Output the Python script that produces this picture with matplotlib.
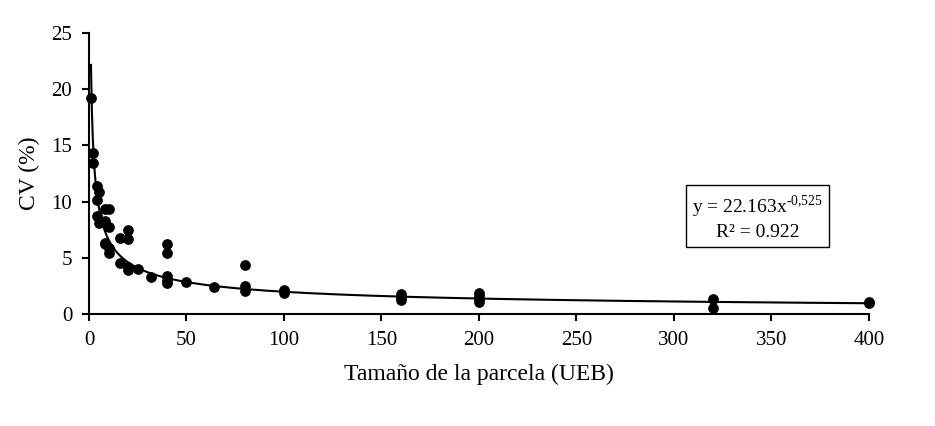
import matplotlib
matplotlib.use("Agg")
import matplotlib.pyplot as plt
import numpy as np

plt.rcParams['font.family'] = ['Liberation Serif', 'DejaVu Serif']
plt.rcParams['mathtext.fontset'] = 'custom'
plt.rcParams['mathtext.rm'] = 'Liberation Serif'

# Observed plot sizes (UEB) and CV (%)
plot_size = [1, 2, 2, 4, 5, 4, 4, 5, 8, 10, 8, 10, 8, 8, 10, 10,
             16, 20, 20, 16, 20, 20, 25, 32, 40, 40, 40, 40, 40,
             50, 64, 80, 80, 80, 100, 100, 160, 160, 160,
             200, 200, 200, 200, 320, 320, 400, 400]
cv = [19.2, 14.3, 13.4, 11.4, 10.85, 10.1, 8.7, 8.1, 9.3, 9.3, 8.3, 7.7, 6.3, 6.2, 5.9, 5.45,
      6.8, 7.5, 6.7, 4.55, 4.2, 3.9, 4.0, 3.25, 6.2, 5.4, 3.4, 3.0, 2.75,
      2.85, 2.4, 4.4, 2.5, 2.05, 2.15, 1.9, 1.75, 1.5, 1.2,
      1.9, 1.6, 1.3, 1.1, 1.3, 0.5, 1.1, 0.95]

# Power trendline reported in the chart
coef_a = 22.163
coef_b = -0.525
r2 = 0.922

x_ticks = [0, 50, 100, 150, 200, 250, 300, 350, 400]
y_ticks = [0, 5, 10, 15, 20, 25]

fig = plt.figure(figsize=(9.35, 4.26), dpi=100)
ax = fig.add_axes([0.0952, 0.263, 0.834, 0.6595])

xs = np.linspace(1, 400, 800)
ax.plot(xs, coef_a * xs ** coef_b, color='black', lw=1.5, zorder=2)
ax.scatter(plot_size, cv, s=45, color='black', zorder=3, clip_on=False)

ax.set_xlim(0, 400)
ax.set_ylim(0, 25)
ax.set_xticks(x_ticks)
ax.set_yticks(y_ticks)
for s in ['top', 'right']:
    ax.spines[s].set_visible(False)
for s in ['left', 'bottom']:
    ax.spines[s].set_linewidth(1.5)
ax.tick_params(axis='both', direction='out', length=5, width=1.5, labelsize=15, pad=7)
ax.set_xlabel('Tamaño de la parcela (UEB)', fontsize=17, labelpad=10)
ax.set_ylabel('CV (%)', fontsize=17, labelpad=8)

ax.text(343, 8.6,
        'y = 22.163x$^{\\mathregular{\u20100{,}525}}$\nR\u00b2 = 0.922',
        ha='center', va='center', fontsize=14, linespacing=1.25,
        bbox=dict(boxstyle='square,pad=0.3', fc='white', ec='black', lw=1))

fig.savefig('out.png', dpi=100)
